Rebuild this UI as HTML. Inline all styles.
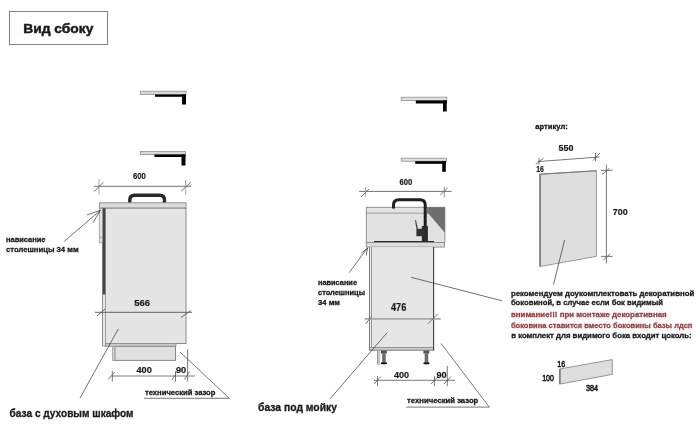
<!DOCTYPE html>
<html><head><meta charset="utf-8">
<style>
html,body{margin:0;padding:0;background:#fff;width:700px;height:428px;overflow:hidden}
svg{position:absolute;left:0;top:0;display:block;will-change:transform}
text{font-family:"Liberation Sans",sans-serif;font-weight:bold;fill:#1a1a1a;stroke:#1a1a1a;stroke-width:0.2px}
text.r{fill:#9a3c42;stroke:#9a3c42}
text.n{stroke-width:0.3px}
text.t{stroke-width:0.45px}
text.w{font-weight:normal;stroke-width:0.55px}
</style></head><body>
<svg width="700" height="428" viewBox="0 0 700 428">
<!-- title -->
<rect x="9.5" y="11.5" width="98" height="33" fill="none" stroke="#808080" stroke-width="1"/>
<text x="23.2" y="33.1" font-size="12.6" class="t" textLength="70.2" lengthAdjust="spacingAndGlyphs">Вид сбоку</text>

<!-- ===== LEFT CABINET ===== -->
<!-- counter pieces -->
<rect x="140.5" y="91.2" width="45.5" height="3.3" fill="#d8d8d8" stroke="#909090" stroke-width="0.8"/>
<rect x="155" y="94.5" width="31" height="2.3" fill="#000"/>
<rect x="182" y="94.5" width="4" height="10" fill="#000"/>
<rect x="140.5" y="151.5" width="45" height="3" fill="#d8d8d8" stroke="#909090" stroke-width="0.8"/>
<rect x="154.5" y="154.5" width="31" height="2.5" fill="#000"/>
<rect x="181.5" y="154.5" width="4" height="11" fill="#000"/>

<!-- 600 dim -->
<text x="133" y="178.7" font-size="9.3" textLength="12.8" lengthAdjust="spacingAndGlyphs">600</text>
<g stroke="#606060" stroke-width="0.9" fill="none">
<line x1="94" y1="186.3" x2="191" y2="186.3"/>
<line x1="99" y1="179.3" x2="99" y2="194.7" stroke="#999"/>
<line x1="94.1" y1="191.6" x2="103.4" y2="182.3"/>
<line x1="185.7" y1="180" x2="185.7" y2="195" stroke="#999"/>
<line x1="181.2" y1="191.2" x2="191" y2="182"/>
</g>

<!-- handle -->
<path d="M129.8 203 V200 Q129.8 195.3 134.5 195.3 H159.8 Q164.5 195.3 164.5 200 V203" fill="none" stroke="#2a2a2a" stroke-width="3.4"/>

<!-- countertop -->
<rect x="99.4" y="202.8" width="86.6" height="5.3" fill="#dcdcdc" stroke="#8a8a8a" stroke-width="0.9"/>
<!-- body -->
<rect x="102.5" y="208.2" width="83.5" height="135.3" fill="#e5e5e5" stroke="#8a8a8a" stroke-width="1"/>
<!-- door edge -->
<rect x="99.3" y="208.2" width="3.4" height="34.6" fill="#e2e2e2" stroke="#999" stroke-width="0.8"/>
<line x1="99.3" y1="237.4" x2="102.7" y2="237.4" stroke="#999" stroke-width="0.7"/>
<!-- dark strip -->
<rect x="102.8" y="208.2" width="2.8" height="86.3" fill="#454545"/>
<rect x="102.6" y="294.5" width="3" height="51.5" fill="#e6e6e6" stroke="#8a8a8a" stroke-width="0.8"/>
<!-- bottom strip -->
<rect x="105.5" y="343.4" width="70.5" height="3" fill="#c8c8c8" stroke="#8a8a8a" stroke-width="0.7"/>
<!-- plinth -->
<rect x="112.7" y="346.4" width="62.8" height="14" fill="#e0e0e0" stroke="#8a8a8a" stroke-width="1"/>
<rect x="112.7" y="346.4" width="2.1" height="14" fill="#d4d4d4"/>
<line x1="114.9" y1="346.4" x2="114.9" y2="360.4" stroke="#8a8a8a" stroke-width="1"/>

<!-- 566 -->
<text x="134.2" y="306" font-size="9.8" textLength="15.8" lengthAdjust="spacingAndGlyphs">566</text>
<g stroke="#555" stroke-width="0.9" fill="none">
<line x1="95" y1="312.3" x2="192" y2="312.3"/>
<line x1="97" y1="316" x2="105" y2="309"/>
<line x1="181" y1="317.5" x2="191" y2="310.4"/>
</g>

<!-- leader нависание L -->
<g stroke="#333" stroke-width="0.7" fill="none">
<line x1="64.3" y1="241.4" x2="100.4" y2="210.3"/>
<line x1="86.9" y1="215" x2="100.4" y2="210.3"/>
<line x1="92.9" y1="222.9" x2="100.4" y2="210.3"/>
</g>
<text x="6" y="242" font-size="7.9" class="n" textLength="39.4" lengthAdjust="spacingAndGlyphs">нависание</text>
<text x="6" y="252.2" font-size="7.9" class="n" textLength="72.6" lengthAdjust="spacingAndGlyphs">столешницы 34 мм</text>

<!-- leader база L -->
<line x1="118.4" y1="328.8" x2="80" y2="398" stroke="#333" stroke-width="0.7"/>
<text x="9.6" y="416.6" font-size="10.5" class="n" textLength="124" lengthAdjust="spacingAndGlyphs">база с духовым шкафом</text>

<!-- tech gap L -->
<g stroke="#555" stroke-width="0.8" fill="none">
<line x1="187.6" y1="349.3" x2="187.6" y2="381.4"/>
<polyline points="180,352 229.3,398.3 144,398.3"/>
</g>
<text x="145" y="394.7" font-size="7.7" class="n" textLength="70.4" lengthAdjust="spacingAndGlyphs">технический зазор</text>

<!-- 400 / 90 L -->
<g stroke="#a8a8a8" stroke-width="1.4" fill="none">
<line x1="111.5" y1="376" x2="195" y2="376"/>
</g>
<g stroke="#555" stroke-width="0.8" fill="none">
<line x1="112.3" y1="371" x2="112.3" y2="381.6"/>
<line x1="108.2" y1="379.5" x2="114.7" y2="372.2"/>
<line x1="175.5" y1="371" x2="175.5" y2="381.6"/>
<line x1="171.8" y1="380" x2="176" y2="374.2"/>
<line x1="184.5" y1="379.4" x2="189.7" y2="371.5"/>
</g>
<text x="136.4" y="373" font-size="9.7" textLength="15.4" lengthAdjust="spacingAndGlyphs">400</text>
<text x="175.9" y="372.8" font-size="9.7" textLength="10.4" lengthAdjust="spacingAndGlyphs">90</text>

<!-- ===== MIDDLE CABINET ===== -->
<rect x="401.2" y="97.2" width="45.6" height="3.3" fill="#e0e0e0" stroke="#909090" stroke-width="0.8"/>
<rect x="415.8" y="100.5" width="31" height="3" fill="#000"/>
<rect x="443" y="100.5" width="3.7" height="11" fill="#000"/>
<rect x="401.2" y="158.2" width="45.3" height="3" fill="#e0e0e0" stroke="#909090" stroke-width="0.8"/>
<rect x="415.2" y="161.2" width="30.8" height="2.6" fill="#000"/>
<rect x="442.2" y="161.2" width="3.6" height="10.6" fill="#000"/>

<text x="399.4" y="184.9" font-size="9.3" textLength="12.8" lengthAdjust="spacingAndGlyphs">600</text>
<g stroke="#606060" stroke-width="0.9" fill="none">
<line x1="359.2" y1="191.4" x2="451.6" y2="191.4"/>
<line x1="365.6" y1="187.1" x2="365.6" y2="196.7" stroke="#999"/>
<line x1="361" y1="197" x2="369" y2="189"/>
<line x1="444.3" y1="187.1" x2="444.3" y2="197.4" stroke="#888"/>
<line x1="440.4" y1="194.8" x2="447.6" y2="188"/>
</g>

<!-- upper panel -->
<rect x="366.3" y="207.3" width="78.6" height="35.2" fill="#e2e2e2" stroke="#8a8a8a" stroke-width="0.9"/>
<line x1="366.3" y1="213.2" x2="444.9" y2="213.2" stroke="#8a8a8a" stroke-width="0.8"/>
<polygon points="427.1,207.3 444.9,207.3 444.9,232.7 428.1,213.2 427.1,213.2" fill="#6e6e6e"/>
<!-- faucet -->
<path d="M393.5 208.6 V205 Q393.5 199.8 398.7 199.8 H420 Q425.2 199.8 425.2 205 V241.5" fill="none" stroke="#1e1e1e" stroke-width="3"/>
<rect x="421.8" y="226" width="6.1" height="15.5" fill="#2a2a2a"/>
<rect x="416.4" y="228.8" width="7.8" height="7.4" fill="#303030"/>
<polygon points="415,220.2 416,220.2 418,228.8 416.4,228.8" fill="#444"/>
<!-- sink line -->
<line x1="374" y1="241.6" x2="434" y2="241.6" stroke="#2a2a2a" stroke-width="1.3"/>
<!-- countertop -->
<rect x="366.3" y="242.5" width="78.1" height="4.6" fill="#dcdcdc" stroke="#8a8a8a" stroke-width="0.9"/>
<!-- body -->
<rect x="369.5" y="247.1" width="64.2" height="103.5" fill="#e6e6e6"/>
<rect x="369.5" y="347.1" width="64.2" height="3.5" fill="#cfcfcf"/>
<line x1="369.5" y1="347.5" x2="433.7" y2="347.5" stroke="#8a8a8a" stroke-width="0.9"/>
<line x1="369.5" y1="350.2" x2="433.7" y2="350.2" stroke="#777" stroke-width="0.9"/>
<rect x="369.5" y="247.1" width="2" height="100" fill="#eeeeee"/>
<line x1="369.5" y1="247.1" x2="369.5" y2="350.6" stroke="#777" stroke-width="1"/>
<line x1="371.5" y1="247.1" x2="371.5" y2="347.1" stroke="#8f8f8f" stroke-width="0.9"/>
<line x1="433.6" y1="247.1" x2="433.6" y2="350.6" stroke="#3a3a3a" stroke-width="1.1"/>
<!-- plinth face + legs -->
<rect x="377.4" y="350.6" width="2.4" height="13.7" fill="#d2d2d2" stroke="#a0a0a0" stroke-width="0.5"/>
<line x1="377.6" y1="350.6" x2="377.6" y2="364.3" stroke="#888" stroke-width="0.8"/>
<g>
<rect x="380.9" y="350.6" width="5.9" height="3" fill="#505050"/>
<rect x="382.2" y="353.5" width="3.5" height="8.8" fill="#6a6a6a"/>
<rect x="380.9" y="362.2" width="6.1" height="2" rx="1" fill="#111"/>
<rect x="423.4" y="350.6" width="5.9" height="3" fill="#505050"/>
<rect x="424.7" y="353.5" width="3.5" height="8.8" fill="#6a6a6a"/>
<rect x="423.4" y="362.2" width="6.1" height="2" rx="1" fill="#111"/>
</g>

<!-- 476 -->
<text x="391" y="310.7" font-size="10.3" textLength="15.2" lengthAdjust="spacingAndGlyphs">476</text>
<g stroke="#a8a8a8" stroke-width="1.6" fill="none">
<line x1="364.5" y1="318.9" x2="440.7" y2="318.9"/>
</g>
<g stroke="#555" stroke-width="0.8" fill="none">
<line x1="365.8" y1="323.7" x2="371.6" y2="316.3"/>
<line x1="428" y1="323.7" x2="437.8" y2="313.8"/>
</g>

<!-- leader нависание M -->
<g stroke="#333" stroke-width="0.7" fill="none">
<line x1="349.1" y1="272.7" x2="367.5" y2="248"/>
<line x1="361.4" y1="253.1" x2="367.5" y2="248"/>
<line x1="366.2" y1="255.5" x2="367.5" y2="248"/>
</g>
<text x="318" y="284.6" font-size="7.9" class="n" textLength="39" lengthAdjust="spacingAndGlyphs">нависание</text>
<text x="318" y="295" font-size="7.9" class="n" textLength="47" lengthAdjust="spacingAndGlyphs">столешницы</text>
<text x="318" y="305" font-size="7.9" class="n" textLength="22" lengthAdjust="spacingAndGlyphs">34 мм</text>

<!-- leader база M -->
<line x1="387.4" y1="332.3" x2="330" y2="398.9" stroke="#333" stroke-width="0.7"/>
<text x="258" y="410.9" font-size="10.5" class="n" textLength="79" lengthAdjust="spacingAndGlyphs">база под мойку</text>

<!-- 400/90 M -->
<g stroke="#555" stroke-width="0.8" fill="none">
<line x1="374" y1="380.3" x2="455" y2="380.3"/>
<line x1="377.5" y1="376" x2="377.5" y2="386.3"/>
<line x1="374" y1="384" x2="381" y2="376.5"/>
<line x1="434.4" y1="376" x2="434.4" y2="386.3"/>
<line x1="431" y1="384" x2="438" y2="376.5"/>
<line x1="447.3" y1="365.8" x2="447.3" y2="386.3"/>
<line x1="444" y1="384" x2="451" y2="376.5"/>
<polyline points="441,343.4 489.3,407.1 406.4,407.1"/>
</g>
<text x="393.9" y="378.1" font-size="9.7" textLength="15.2" lengthAdjust="spacingAndGlyphs">400</text>
<text x="436.5" y="378.1" font-size="9.7" textLength="10.2" lengthAdjust="spacingAndGlyphs">90</text>
<text x="407.1" y="403.1" font-size="7.7" class="n" textLength="71.2" lengthAdjust="spacingAndGlyphs">технический зазор</text>

<!-- long leader to text -->
<line x1="411.1" y1="277.3" x2="502" y2="300.8" stroke="#333" stroke-width="0.7"/>

<!-- ===== RIGHT PANEL ===== -->
<text x="535.3" y="129" font-size="7.6" class="n" textLength="32.6" lengthAdjust="spacingAndGlyphs">артикул:</text>
<text x="558.5" y="151.1" font-size="9.6" textLength="15" lengthAdjust="spacingAndGlyphs">550</text>
<g stroke="#555" stroke-width="0.8" fill="none">
<line x1="537.7" y1="161.6" x2="599.4" y2="157"/>
<line x1="539" y1="158" x2="539" y2="165"/>
<line x1="535.8" y1="164.4" x2="543.5" y2="158"/>
<line x1="595.5" y1="152.9" x2="595.5" y2="161.2"/>
<line x1="593" y1="160.6" x2="600" y2="152.9"/>
</g>
<text x="536.2" y="171.5" font-size="8.74" textLength="7.7" lengthAdjust="spacingAndGlyphs">16</text>
<polygon points="539.9,174.2 596.4,170.7 596.4,256.3 539.9,266.6" fill="#dedede" stroke="#8f8f8f" stroke-width="0.9"/>
<line x1="540.1" y1="174.3" x2="540.1" y2="266.5" stroke="#7a7a7a" stroke-width="1.5"/>
<line x1="539.9" y1="174.2" x2="596.4" y2="170.7" stroke="#777" stroke-width="1.1"/>
<g stroke="#555" stroke-width="0.8" fill="none">
<line x1="606.4" y1="164.7" x2="606.4" y2="263.4"/>
<line x1="601" y1="170.3" x2="612.7" y2="170.3"/>
<line x1="602" y1="174.5" x2="609.4" y2="168.4"/>
<line x1="601" y1="256.4" x2="612.7" y2="256.4"/>
<line x1="603.4" y1="260" x2="610" y2="254"/>
</g>
<text x="612.8" y="215.3" font-size="9.86" textLength="14.9" lengthAdjust="spacingAndGlyphs">700</text>
<line x1="564.6" y1="240" x2="553.5" y2="284.5" stroke="#333" stroke-width="0.7"/>

<!-- text block -->
<text x="510.9" y="296" font-size="7.9" textLength="183.4" lengthAdjust="spacingAndGlyphs" class="n">рекомендуем доукомплектовать декоративной</text>
<text x="510.9" y="305.1" font-size="7.9" textLength="152" lengthAdjust="spacingAndGlyphs" class="n">боковиной, в случае если бок видимый</text>
<text x="510.9" y="317" font-size="7.9" textLength="155.8" lengthAdjust="spacingAndGlyphs" class="r n">внимание!!! при монтаже декоративная</text>
<text x="510.9" y="327.5" font-size="7.9" textLength="181.5" lengthAdjust="spacingAndGlyphs" class="r n">боковина ставится вместо боковины базы лдсп</text>
<text x="511.2" y="337.5" font-size="7.9" textLength="180.5" lengthAdjust="spacingAndGlyphs" class="n">в комплект для видимого бока входит цоколь:</text>

<!-- plinth piece -->
<polygon points="559.6,369 612.3,359.6 612.3,374.4 559.6,384.1" fill="#dedede" stroke="#8a8a8a" stroke-width="0.9"/>
<line x1="560" y1="369" x2="560" y2="384" stroke="#707070" stroke-width="1.3"/>
<text x="557.2" y="367.4" font-size="8.3" textLength="7.9" lengthAdjust="spacingAndGlyphs" class="w">16</text>
<text x="542.2" y="380.5" font-size="8.3" textLength="11.7" lengthAdjust="spacingAndGlyphs" class="w">100</text>
<text x="585.9" y="390.9" font-size="8.3" textLength="12.2" lengthAdjust="spacingAndGlyphs" class="w">384</text>
</svg>
</body></html>
